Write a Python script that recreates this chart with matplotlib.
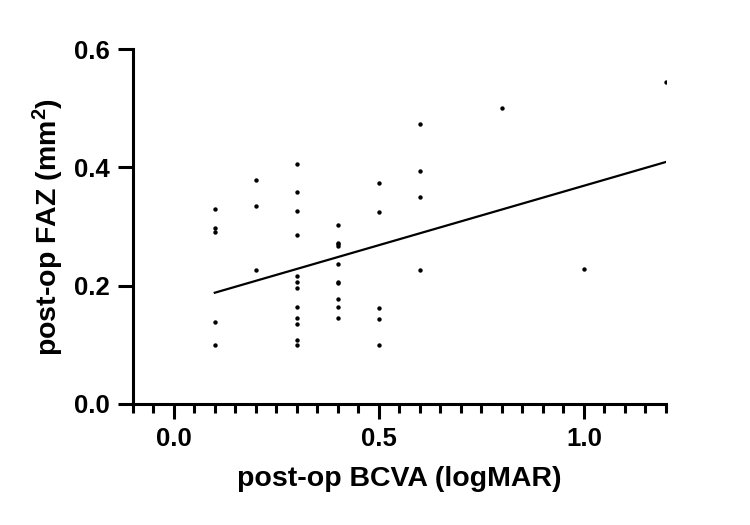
import numpy as np
import matplotlib
matplotlib.use("Agg")
import matplotlib.pyplot as plt
from matplotlib.ticker import MultipleLocator, FormatStrFormatter

plt.rcParams['font.family'] = ['Liberation Sans', 'DejaVu Sans']
plt.rcParams['font.weight'] = 'bold'
plt.rcParams['mathtext.fontset'] = 'custom'
plt.rcParams['mathtext.rm'] = 'Liberation Sans:bold'
plt.rcParams['mathtext.bf'] = 'Liberation Sans:bold'
plt.rcParams['mathtext.it'] = 'Liberation Sans:bold'

# data (post-op FAZ per BCVA value)
bcva_01 = [0.329, 0.297, 0.290, 0.139, 0.100]
bcva_02 = [0.379, 0.334, 0.227]
bcva_03 = [0.405, 0.359, 0.326, 0.286, 0.217, 0.207, 0.196, 0.164, 0.146, 0.135, 0.108, 0.100]
bcva_04 = [0.302, 0.273, 0.270, 0.267, 0.236, 0.207, 0.204, 0.177, 0.164, 0.145]
bcva_05 = [0.373, 0.325, 0.162, 0.144, 0.100]
bcva_06 = [0.473, 0.394, 0.350, 0.227]
bcva_08 = [0.501]
bcva_10 = [0.229]
bcva_12 = [0.544]
bcva_values = [0.1, 0.2, 0.3, 0.4, 0.5, 0.6, 0.8, 1.0, 1.2]
faz_groups = [bcva_01, bcva_02, bcva_03, bcva_04, bcva_05, bcva_06, bcva_08, bcva_10, bcva_12]

# regression line as shown in the reference
fit_slope = 0.201
fit_intercept = 0.168

x = np.concatenate([[k] * len(v) for k, v in zip(bcva_values, faz_groups)])
y = np.concatenate(faz_groups)

fig = plt.figure(figsize=(7.5, 5.25), dpi=100)
ax = fig.add_axes([0.177, 0.2305, 0.711, 0.676])

ax.scatter(x, y, s=10, color='black', zorder=3, linewidths=0)
xl = np.array([x.min(), x.max()])
ax.plot(xl, fit_slope * xl + fit_intercept, color='black', lw=1.6)

ax.set_xlim(-0.1, 1.2)
ax.set_ylim(0, 0.6)
ax.xaxis.set_major_locator(MultipleLocator(0.5))
ax.xaxis.set_minor_locator(MultipleLocator(0.05))
ax.yaxis.set_major_locator(MultipleLocator(0.2))
ax.xaxis.set_major_formatter(FormatStrFormatter('%.1f'))
ax.yaxis.set_major_formatter(FormatStrFormatter('%.1f'))

for s in ['top', 'right']:
    ax.spines[s].set_visible(False)
for s in ['left', 'bottom']:
    ax.spines[s].set_linewidth(2.2)

ax.tick_params(axis='both', which='major', width=2.2, length=10.5, labelsize=18.5, pad=6)
ax.tick_params(axis='x', which='minor', width=2.2, length=6.5)

ax.set_xlabel('post-op BCVA (logMAR)', fontsize=20.5, fontweight='bold', labelpad=11)
ax.set_ylabel(r'post-op FAZ (mm$^{2}$)', fontsize=20.5, fontweight='bold', labelpad=6)

fig.savefig('out.png', dpi=100)
